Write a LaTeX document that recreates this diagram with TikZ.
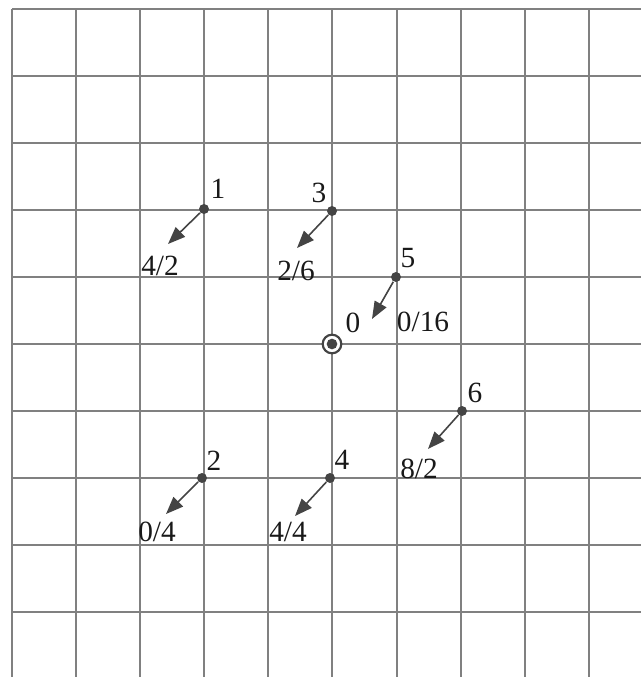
\documentclass[tikz,border=0pt]{standalone}
\usepackage{fontspec}
\setmainfont{Liberation Serif}
\usetikzlibrary{arrows.meta}
\definecolor{gridgray}{RGB}{128,128,128}
\definecolor{inkgray}{RGB}{68,68,68}
\tikzset{every picture/.style={line width=0.75pt}}
\tikzset{
  dot/.style={circle,fill=inkgray,inner sep=0pt,minimum size=7.5pt},
  ring/.style={circle,draw=inkgray,line width=1.6pt,fill=white,inner sep=0pt,minimum size=14pt},
  lbl/.style={inner sep=0.75pt,font=\fontsize{22}{26}\selectfont,text=black!90},
  move/.style={draw=inkgray,line width=1.2pt,-{Triangle[length=13pt,width=10pt]}},
}

\begin{document}
\begin{tikzpicture}[x=0.75pt,y=0.75pt,yscale=-1,xscale=1]
	\useasboundingbox (0,0) rectangle (641,677);

	%Grid: vertical lines
	\draw [gridgray,line width=1pt] (12,9) -- (12,677) (76,9) -- (76,677) (140,9) -- (140,677) (204,9) -- (204,677) (268,9) -- (268,677) (332,9) -- (332,677) (397,9) -- (397,677) (461,9) -- (461,677) (525,9) -- (525,677) (589,9) -- (589,677) ;
	%Grid: horizontal lines
	\draw [gridgray,line width=1pt] (12,9) -- (641,9) (12,76) -- (641,76) (12,143) -- (641,143) (12,210) -- (641,210) (12,277) -- (641,277) (12,344) -- (641,344) (12,411) -- (641,411) (12,478) -- (641,478) (12,545) -- (641,545) (12,612) -- (641,612) ;

	%Shape: Circle (origin)
	\node [ring] (n0) at (332,344) {};
	\node [dot,minimum size=8pt] (c0) at (n0) {};
	%Shape: Circle
	\node [dot] (n1) at (204,209) {};
	\node [dot] (n2) at (202,478) {};
	\node [dot] (n3) at (332,211) {};
	\node [dot] (n4) at (330,478) {};
	\node [dot] (n5) at (396,277) {};
	\node [dot] (n6) at (462,411) {};

	%Arrows
	\coordinate (e1) at (168,244);
	\coordinate (e2) at (166,514);
	\coordinate (e3) at (297,248);
	\coordinate (e4) at (295,516);
	\coordinate (e5) at (372,319);
	\coordinate (e6) at (428,449);
	\draw [move] (n1) -- (e1);
	\draw [move] (n2) -- (e2);
	\draw [move] (n3) -- (e3);
	\draw [move] (n4) -- (e4);
	\draw [move] (n5) -- (e5);
	\draw [move] (n6) -- (e6);

	% Text Node
	\node [lbl] (t0) at (353,323) {0};
	% Text Node
	\node [lbl] (t1) at (218,189) {1};
	% Text Node
	\node [lbl] (t2) at (214,461) {2};
	% Text Node
	\node [lbl] (t3) at (319,193) {3};
	% Text Node
	\node [lbl] (t4) at (342,460) {4};
	% Text Node
	\node [lbl] (t5) at (408,258) {5};
	% Text Node
	\node [lbl] (t6) at (475,393) {6};
	% Text Node
	\node [lbl] (v1) at (160,266) {4/2};
	% Text Node
	\node [lbl] (v2) at (157,532) {0/4};
	% Text Node
	\node [lbl] (v3) at (296,271) {2/6};
	% Text Node
	\node [lbl] (v4) at (288,532) {4/4};
	% Text Node
	\node [lbl] (v5) at (423,322) {0/16};
	% Text Node
	\node [lbl] (v6) at (419,469) {8/2};
\end{tikzpicture}
\end{document}
